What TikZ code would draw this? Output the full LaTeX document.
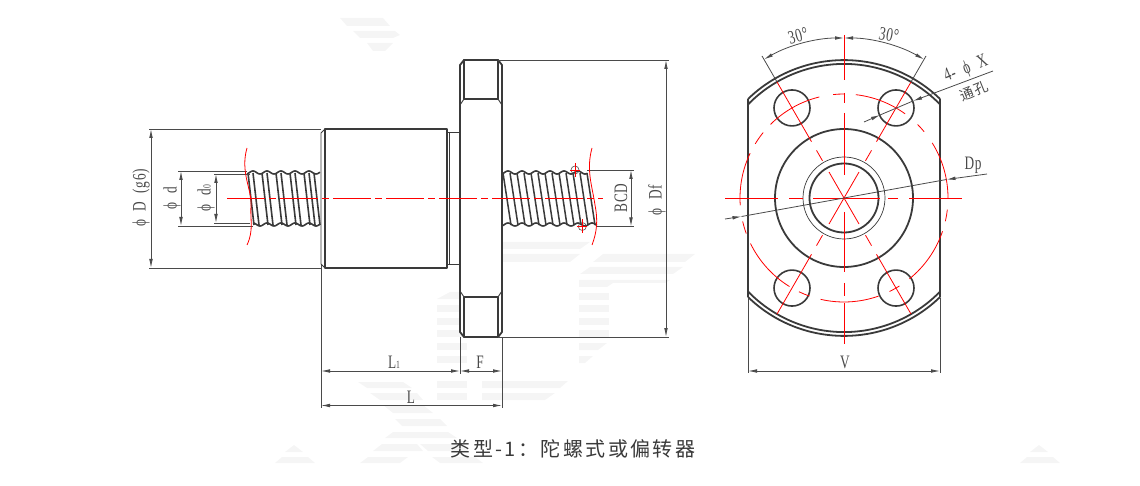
\documentclass[tikz,border=0pt]{standalone}
\usepackage{fontspec}
\setmainfont{Liberation Serif}[FakeStretch=0.7,LetterSpace=3,WordSpace=2.2]
\newfontfamily\captionfont{Noto Sans CJK SC}[LetterSpace=12]
\usepackage{tikz}
\usetikzlibrary{arrows.meta}
\definecolor{steelgray}{HTML}{3A3A3A}
\definecolor{dimgray}{HTML}{4A4A4A}
\definecolor{marklight}{HTML}{F5F5F5}
\newcommand{\smalltxt}[1]{{\fontsize{11}{11}\selectfont #1}}
\tikzset{
	thickedge/.style={draw=steelgray,line width=1.8pt,line join=round},
	thinedge/.style={draw=steelgray,line width=0.9pt,line join=round},
	extline/.style={draw=dimgray,line width=0.8pt},
	dimline/.style={draw=dimgray,line width=0.8pt,{Latex[length=9pt,width=3.6pt]}-{Latex[length=9pt,width=3.6pt]}},
	redline/.style={draw=red,line width=0.8pt},
	axisline/.style={redline,dash pattern=on 38pt off 4pt on 7pt off 4pt},
	dimtext/.style={text=dimgray,font=\fontsize{19}{19}\selectfont,inner sep=0pt},
	markpatch/.style={fill=marklight,draw=none},
}
\begin{document}
\begin{tikzpicture}[x=1pt,y=-1pt]
	\useasboundingbox (0,0) rectangle (1140,486);

	\fill[markpatch] (340,18) -- (383,18) -- (390,26) -- (347,26) -- cycle;
	\fill[markpatch] (353,31) -- (395,31) -- (400,35) -- (393,38) -- (360,38) -- cycle;
	\fill[markpatch] (367,43) -- (393,43) -- (385,51) -- (373,51) -- cycle;
	\fill[markpatch] (491,249) -- (502,242) -- (590,242) -- (580,249) -- cycle;
	\fill[markpatch] (478,262) -- (488,254) -- (580,254) -- (570,262) -- cycle;
	\fill[markpatch] (593,262) -- (603,254) -- (695,254) -- (685,262) -- cycle;
	\fill[markpatch] (580,274) -- (590,267) -- (683,267) -- (673,274) -- cycle;
	\fill[markpatch] (579,280) -- (670,280) -- (665,283) -- (613,283) -- (607,287) -- (579,287) -- cycle;
	\foreach \ytop in {293,305,318,330}
		\fill[markpatch] (579,\ytop) rectangle (609,\ytop+7);
	\fill[markpatch] (579,343) -- (607,343) -- (598,350) -- (579,350) -- cycle;
	\fill[markpatch] (579,356) -- (593,356) -- (585,363) -- (579,363) -- cycle;
	\fill[markpatch] (437,299) -- (450,292) -- (467,292) -- (467,299) -- cycle;
	\foreach \ytop in {305,318,330,343,356,381,393}
		\fill[markpatch] (437,\ytop) rectangle (467,\ytop+7);
	\fill[markpatch] (482,381) -- (568,381) -- (560,388) -- (482,388) -- cycle;
	\fill[markpatch] (482,393) -- (555,393) -- (545,400) -- (482,400) -- cycle;
	\fill[markpatch] (358,382) -- (403,382) -- (412,388) -- (367,388) -- cycle;
	\fill[markpatch] (370,393) -- (417,393) -- (423,400) -- (380,400) -- cycle;
	\fill[markpatch] (383,405) -- (423,405) -- (433,413) -- (393,413) -- cycle;
	\fill[markpatch] (395,419) -- (440,419) -- (447,426) -- (402,426) -- cycle;
	\fill[markpatch] (385,438) -- (393,432) -- (448,432) -- (457,438) -- cycle;
	\fill[markpatch] (373,451) -- (382,444) -- (417,444) -- (423,451) -- cycle;
	\fill[markpatch] (420,444) -- (460,444) -- (468,451) -- (428,451) -- cycle;
	\fill[markpatch] (360,463) -- (368,457) -- (408,457) -- (400,463) -- cycle;
	\fill[markpatch] (432,457) -- (475,457) -- (483,463) -- (440,463) -- cycle;
	\foreach \xmark in {0,745} {
		\fill[markpatch] (285+\xmark,452) -- (294+\xmark,445) -- (303+\xmark,452) -- cycle;
		\fill[markpatch] (275+\xmark,463) -- (282+\xmark,457) -- (308+\xmark,457) -- (315+\xmark,463) -- cycle;
	}

	\coordinate (bodyTL)	at (325,129);
	\coordinate (bodyBR)	at (447,268);
	\coordinate (hub)		at (844,198);

	\draw[thickedge,fill=white] (bodyTL) rectangle (bodyBR);
	\draw[thinedge] (325,129) -- (321,133) -- (321,264) -- (325,268);
	\draw[thinedge] (447,132) -- (460,132);
	\draw[thinedge] (447,264) -- (460,264);
	\draw[thinedge] (449.5,132) -- (449.5,264);

	\draw[thickedge,fill=white] (464,60) -- (498,60) -- (502,65) -- (502,332) -- (498,337) -- (464,337) -- (460,332) -- (460,65) -- cycle;
	\draw[thickedge] (464,60) rectangle (498,99);
	\draw[thickedge] (464,297) rectangle (498,337);
	\draw[thinedge] (464,99) -- (460,105);
	\draw[thinedge] (498,99) -- (502,105);
	\draw[thinedge] (464,297) -- (460,291);
	\draw[thinedge] (498,297) -- (502,291);

	\draw[thickedge,line width=1.6pt] plot[domain=247:320,samples=90,smooth] (\x,{172.5-1.5*cos(25.71*(\x-253))});
	\draw[thickedge,line width=1.6pt] plot[domain=253:320,samples=90,smooth] (\x,{224.5+1.5*cos(25.71*(\x-260))});
	\foreach \xthread in {248,253,262,267,276,281,290,295,304,309,314}
		\draw[thickedge,line width=1.6pt] (\xthread,173) -- (\xthread+6,225);
	\draw[thickedge,line width=1.6pt] plot[domain=502:587,samples=110,smooth] (\x,{172.5-1.5*cos(25.71*(\x-508))});
	\draw[thickedge,line width=1.6pt] plot[domain=502:597,samples=110,smooth] (\x,{224.5+1.5*cos(25.71*(\x-515))});
	\foreach \xthread in {503,510,517,524,531,538,545,552,559,566,573,580,587}
		\draw[thickedge,line width=1.5pt] (\xthread,173) -- (\xthread+8,225);

	\draw[extline] (250,174) -- (214,174);
	\draw[extline] (250,223) -- (214,223);
	\draw[extline] (247,171) -- (178,171);
	\draw[extline] (253,226) -- (178,226);
	\draw[extline] (321,129) -- (149,129);
	\draw[extline] (321,268) -- (149,268);
	\draw[extline] (498,60) -- (669,60);
	\draw[extline] (498,337) -- (669,337);
	\draw[extline] (587,170) -- (634,170);
	\draw[extline] (597,226.5) -- (634,226.5);
	\draw[extline] (321,265) -- (321,408);
	\draw[extline] (460,337) -- (460,374);
	\draw[extline] (502,337) -- (502,408);

	\coordinate (dTop)	at (151,129);	\coordinate (dBot)	at (151,268);
	\coordinate (sTop)	at (181,171);	\coordinate (sBot)	at (181,226);
	\coordinate (rTop)	at (216,174);	\coordinate (rBot)	at (216,223);
	\coordinate (bTop)	at (631,170);	\coordinate (bBot)	at (631,226.5);
	\coordinate (fTop)	at (666,60);	\coordinate (fBot)	at (666,337);
	\coordinate (lLeft)	at (321,405.5);	\coordinate (lRight)	at (502,405.5);
	\coordinate (aLeft)	at (321,371);	\coordinate (aMid)	at (460,371);	\coordinate (aRight)	at (502,371);
	\draw[dimline] (dTop) -- (dBot);
	\draw[dimline] (sTop) -- (sBot);
	\draw[dimline] (rTop) -- (rBot);
	\draw[dimline] (bTop) -- (bBot);
	\draw[dimline] (fTop) -- (fBot);
	\draw[dimline] (lLeft) -- (lRight);
	\draw[dimline] (aLeft) -- (aMid);
	\draw[dimline] (aMid) -- (aRight);

	\node[dimtext,rotate=90] (labelD)	at (141,198) {ϕ D (g6)};
	\node[dimtext,rotate=90] (labeld)	at (172,198) {ϕ d};
	\node[dimtext,rotate=90] (labeldz)	at (206,198) {ϕ d\smalltxt{0}};
	\node[dimtext,rotate=90] (labelB)	at (621,198) {BCD};
	\node[dimtext,rotate=90] (labelDf)	at (657,200) {ϕ Df};
	\node[dimtext] (labelLa)	at (394,362) {L\smalltxt{1}};
	\node[dimtext] (labelF)		at (480,362) {F};
	\node[dimtext] (labelL)		at (411,397) {L};

	\draw[redline] (247,148) .. controls (240,172) and (252,190) .. (251,205) .. controls (250,220) and (254,230) .. (247,245);
	\draw[redline] (592,148) .. controls (586,170) and (592,185) .. (595,205) .. controls (598,220) and (597,232) .. (592,245);
	\foreach \xmark/\ymark in {575/170,582.3/226.5} {
		\draw[extline,line width=0.6pt] (\xmark,\ymark) circle (4);
		\draw[redline] (\xmark-5,\ymark) -- (\xmark+5,\ymark);
		\draw[redline] (\xmark,\ymark-7) -- (\xmark,\ymark+7);
	}
	\draw[axisline] (227,198) -- (603,198);

	\begin{scope}[shift={(hub)}]
		\draw[thickedge] (-96,-99) -- (-96,99);
		\draw[thickedge] (96,-99) -- (96,99);
		\draw[thickedge] (-96,-99) arc (-134.1:-45.9:138);
		\draw[thickedge] (-96,-93.5) arc (-135.8:-44.2:134);
		\draw[thickedge] (-96,99) arc (134.1:45.9:138);
		\draw[thickedge] (-96,93.5) arc (135.8:44.2:134);
		\draw[thickedge] (0,0) circle (69);
		\draw[thickedge] (0,0) circle (34.5);
		\draw[thinedge,line width=0.7pt] (0,0) circle (41);
		\foreach \ang in {-120,-60,60,120} {
			\draw[thickedge,line width=1.6pt] (\ang:104) circle (18);
			\draw[redline] (0,0) -- (\ang:30);
			\draw[redline] (\ang:43) -- (\ang:55);
			\draw[redline] (\ang:65) -- (\ang:134);
		}
		\foreach \astart/\aend in {-32/0,-45/-39.6,-83.5/-54,-96/-90,-135/-103.7,-148.6/-141,-184/-154.5,160/167,121.6/154,109.4/115.7,70.6/103,57.8/64,18.7/51,6.4/12.9}
			\draw[redline] (\astart:104) arc (\astart:\aend:104);
		\draw[redline] (-119,0) -- (-66,0);
		\draw[redline] (-55,0) -- (-41,0);
		\draw[redline] (-31,0) -- (36,0);
		\draw[redline] (44,0) -- (54,0);
		\draw[redline] (65,0) -- (118,0);
		\draw[redline] (0,-163) -- (0,-118);
		\draw[redline] (0,-105) -- (0,-95);
		\draw[redline] (0,-85) -- (0,-23);
		\draw[redline] (0,14) -- (0,74);
		\draw[redline] (0,85) -- (0,98);
		\draw[redline] (0,105) -- (0,146);

		\coordinate (angL)	at (-120:160);
		\coordinate (angR)	at (-60:160);
		\draw[extline] (-120:134) -- (-120:164);
		\draw[extline] (-60:134) -- (-60:164);
		\draw[extline,{Latex[length=9pt,width=3.6pt]}-{Latex[length=9pt,width=3.6pt]}] (angL) arc (-120:-90:160);
		\draw[extline,{Latex[length=9pt,width=3.6pt]}-{Latex[length=9pt,width=3.6pt]}] (angR) arc (-60:-90:160);
		\coordinate (vLeft)	at (-96,173);
		\coordinate (vRight)	at (96,173);
		\coordinate (pLeft)	at (-119,21);
		\coordinate (pRight)	at (143,-24);
		\coordinate (pInL)	at (-102.5,18.5);
		\coordinate (pInR)	at (102.5,-18.5);
		\coordinate (xLeft)	at (20,-76);
		\coordinate (xRight)	at (149,-127);
		\coordinate (xInL)	at (36,-83);
		\coordinate (xInR)	at (69,-97);
		\draw[dimline] (vLeft) -- (vRight);
		\draw[extline] (-96,100) -- (-96,175);
		\draw[extline] (96,100) -- (96,175);
		\draw[extline,-{Latex[length=9pt,width=3.6pt]}] (pLeft) -- (pInL);
		\draw[extline,-{Latex[length=9pt,width=3.6pt]}] (pRight) -- (pInR);
		\draw[extline,-{Latex[length=9pt,width=3.6pt]}] (xLeft) -- (xInL);
		\draw[extline,-{Latex[length=9pt,width=3.6pt]}] (xRight) -- (xInR);
		\draw[extline] (xInL) -- (xInR);
		\draw[extline] (pInL) -- (pInR);
	\end{scope}

	\node[dimtext,rotate=15]	(labelAngL)	at (798,36)	{30°};
	\node[dimtext,rotate=-10]	(labelAngR)	at (889,35)	{30°};
	\node[dimtext,rotate=22]	(labelX)	at (966,69)	{4- ϕ X};
	\node[dimtext,rotate=22,font=\captionfont\fontsize{14}{14}\selectfont] (labelHole) at (974,91) {通孔};
	\node[dimtext] (labelDp)	at (973,165)	{Dp};
	\node[dimtext] (labelV)		at (845,362)	{V};

	\node[inner sep=0pt,text=steelgray,font=\captionfont\fontsize{20}{20}\selectfont] (titleText) at (573,449) {类型-1：陀螺式或偏转器};
\end{tikzpicture}
\end{document}
